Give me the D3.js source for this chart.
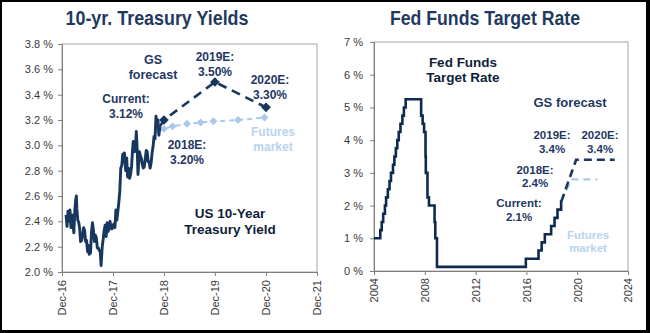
<!DOCTYPE html>
<html>
<head>
<meta charset="utf-8">
<script src="https://cdn.jsdelivr.net/npm/d3@7"></script>
<style>
  body { margin: 0; background: #000; }
  svg { display: block; }
  text { font-family: "Liberation Sans", Arial, sans-serif; }
</style>
</head>
<body>
<svg id="chart" width="650" height="333"></svg>
<script>
// 10-year treasury yield, weekly closes
var yieldDates = ["2016-12-30","2017-01-06","2017-01-13","2017-01-20","2017-01-27","2017-02-03","2017-02-10","2017-02-17","2017-02-24","2017-03-03","2017-03-10","2017-03-14","2017-03-17","2017-03-24","2017-03-31","2017-04-07","2017-04-13","2017-04-21","2017-04-28","2017-05-05","2017-05-12","2017-05-19","2017-05-26","2017-06-02","2017-06-09","2017-06-14","2017-06-23","2017-06-30","2017-07-07","2017-07-14","2017-07-21","2017-07-28","2017-08-04","2017-08-11","2017-08-18","2017-08-25","2017-09-01","2017-09-07","2017-09-15","2017-09-22","2017-09-29","2017-10-06","2017-10-13","2017-10-20","2017-10-27","2017-11-03","2017-11-10","2017-11-17","2017-11-24","2017-12-01","2017-12-08","2017-12-15","2017-12-22","2017-12-29","2018-01-05","2018-01-12","2018-01-19","2018-01-26","2018-02-02","2018-02-09","2018-02-16","2018-02-21","2018-03-02","2018-03-09","2018-03-16","2018-03-23","2018-03-30","2018-04-06","2018-04-13","2018-04-20","2018-04-25","2018-05-04","2018-05-11","2018-05-17","2018-05-25","2018-05-29","2018-06-08","2018-06-15","2018-06-22","2018-06-29","2018-07-06","2018-07-13","2018-07-20","2018-07-27","2018-08-03","2018-08-10","2018-08-17","2018-08-24","2018-08-31","2018-09-07","2018-09-14","2018-09-21","2018-09-28","2018-10-05","2018-10-12","2018-10-19","2018-10-26","2018-11-02"];
var yieldValues = [2.45,2.36,2.48,2.40,2.49,2.35,2.45,2.38,2.31,2.49,2.58,2.60,2.50,2.41,2.39,2.34,2.24,2.25,2.29,2.35,2.33,2.24,2.25,2.16,2.21,2.14,2.15,2.31,2.39,2.33,2.24,2.29,2.27,2.19,2.19,2.17,2.16,2.05,2.20,2.26,2.33,2.37,2.28,2.39,2.32,2.34,2.40,2.35,2.34,2.37,2.38,2.35,2.49,2.41,2.48,2.55,2.64,2.82,2.84,2.93,2.87,2.94,2.80,2.90,2.75,2.82,2.74,2.77,2.83,2.96,3.03,2.95,2.97,3.11,2.93,2.77,2.95,2.92,2.90,2.85,2.82,2.83,2.89,2.96,2.95,2.87,2.87,2.82,2.86,2.94,2.99,3.07,3.05,3.23,3.16,3.20,3.08,3.15];

// GS forecast for the 10-year
var gsYieldDates = ["2018-11-02","2018-12-01","2019-12-01","2020-12-01"];
var gsYieldValues = [3.15,3.20,3.50,3.30];
// futures-implied path
var futYieldDates = ["2018-10-20","2018-12-01","2019-02-01","2019-05-15","2019-08-20","2019-11-20","2020-05-15","2020-11-20"];
var futYieldValues = [3.12,3.13,3.15,3.17,3.18,3.19,3.20,3.22];

var yieldTicks = [2.0,2.2,2.4,2.6,2.8,3.0,3.2,3.4,3.6,3.8];
var yieldYears = ["2016-12-01","2017-12-01","2018-12-01","2019-12-01","2020-12-01","2021-12-01"];

// Fed funds target (mid of range), value changes
var fedDates = ["2004-01-01","2004-06-30","2004-08-10","2004-09-21","2004-11-10","2004-12-14","2005-02-02","2005-03-22","2005-05-03","2005-06-30","2005-08-09","2005-09-20","2005-11-01","2005-12-13","2006-01-31","2006-03-28","2006-05-10","2006-06-29","2007-09-18","2007-10-31","2007-12-11","2008-01-22","2008-01-30","2008-03-18","2008-04-30","2008-10-08","2008-10-29","2008-12-16","2015-12-16","2016-12-14","2017-03-15","2017-06-14","2017-12-13","2018-03-21","2018-06-13","2018-09-26","2018-10-01"];
var fedRates = [1.00,1.25,1.50,1.75,2.00,2.25,2.50,2.75,3.00,3.25,3.50,3.75,4.00,4.25,4.50,4.75,5.00,5.25,4.75,4.50,4.25,3.50,3.00,2.25,2.00,1.50,1.00,0.125,0.375,0.625,0.875,1.125,1.375,1.625,1.875,2.125,2.125];

var gsFedDates = ["2018-10-01","2018-12-31","2019-12-01","2022-12-15"];
var gsFedRates = [2.125,2.40,3.40,3.40];
var futFedDates = ["2018-10-01","2018-12-31","2019-08-01","2021-08-01"];
var futFedRates = [2.125,2.35,2.80,2.80];

var fedTicks = [0,1,2,3,4,5,6,7];
var fedYears = [2004,2008,2012,2016,2020,2024];

var dark = "#17375e", light = "#a9c9ec", navyText = "#1f3864", tickGray = "#3a3a3a";
var parse = d3.timeParse("%Y-%m-%d");

var svg = d3.select("#chart");
svg.append("rect").attr("x",2).attr("y",2).attr("width",644).attr("height",328).style("fill","#fff");

function zip(ds, vs) { return ds.map(function(d, i) { return {date: parse(d), value: vs[i]}; }); }

function frame(g, x0, x1, y0, y1) {
  g.append("rect")
   .attr("x",x0).attr("y",y0)
   .attr("width",x1-x0).attr("height",y1-y0)
   .style("fill","none").style("stroke","#a6a6a6").style("stroke-width",1);
}

function styleAxis(a) {
  a.selectAll("path").style("stroke","#7f7f7f");
  a.selectAll("line").style("stroke","#7f7f7f");
  a.selectAll("text").style("fill",tickGray).style("font-size","11px");
}

function labels(g, items) {
  items.forEach(function(t) {
    var txt = g.append("text")
      .attr("x", t.x).attr("y", t.y)
      .attr("text-anchor","middle")
      .style("font-weight","bold")
      .style("font-size", t.size + "px")
      .style("fill", t.color);
    t.lines.forEach(function(line, i) {
      txt.append("tspan").attr("x", t.x).attr("dy", i == 0 ? 0 : (t.lead || 14.5)).text(line);
    });
  });
}

function title(str, cx, len) {
  svg.append("text")
     .attr("x", cx).attr("y", 25)
     .attr("text-anchor","middle")
     .attr("textLength", len).attr("lengthAdjust","spacingAndGlyphs")
     .style("font-size","21px").style("font-weight","bold")
     .style("fill","#1f3a5f")
     .text(str);
}

function diamonds(g, pts, x, y, size, color) {
  g.selectAll(null).data(pts).enter()
   .append("path")
   .attr("d", d3.symbol().type(d3.symbolDiamond2).size(size))
   .attr("transform", function(d) { return "translate(" + x(d.date) + "," + y(d.value) + ")"; })
   .style("fill", color);
}

// ---------- left: 10-yr treasury ----------
var L = svg.append("g");
var lx = d3.scaleTime().domain([parse("2016-12-01"), parse("2021-12-01")]).range([62, 317]);
var ly = d3.scaleLinear().domain([2.0, 3.8]).range([272, 44]);

frame(L, 62, 317, 44, 272);

var lyAxis = L.append("g").attr("transform","translate(62,0)")
  .call(d3.axisLeft(ly).tickValues(yieldTicks).tickSize(4).tickPadding(5)
        .tickFormat(function(d) { return d3.format(".1f")(d) + " %"; }));
styleAxis(lyAxis);

var lxAxis = L.append("g").attr("transform","translate(0,272)")
  .call(d3.axisBottom(lx).tickValues(yieldYears.map(parse)).tickSize(4)
        .tickFormat(d3.timeFormat("Dec-%y")));
styleAxis(lxAxis);
lxAxis.selectAll("text")
  .attr("transform","rotate(-90)")
  .attr("text-anchor","end")
  .attr("x",-8).attr("y",0).attr("dy","0.35em");

var yLine = d3.line().x(function(d) { return lx(d.date); }).y(function(d) { return ly(d.value); });

var futY = zip(futYieldDates, futYieldValues);
L.append("path").datum(futY).attr("d", yLine)
  .style("fill","none").style("stroke",light).style("stroke-width",2).style("stroke-dasharray","5,4");
diamonds(L, futY, lx, ly, 40, light);

L.append("path").datum(zip(yieldDates, yieldValues)).attr("d", yLine)
  .style("fill","none").style("stroke",dark).style("stroke-width",2.9).style("stroke-linejoin","round");

var gsY = zip(gsYieldDates, gsYieldValues);
L.append("path").datum(gsY).attr("d", yLine)
  .style("fill","none").style("stroke",dark).style("stroke-width",2.6).style("stroke-dasharray","9,6");
diamonds(L, gsY.slice(1), lx, ly, 60, dark);

labels(L, [
  {x:153, y:64, size:12.5, color:navyText, lines:["GS","forecast"]},
  {x:215, y:61, size:12, color:navyText, lines:["2019E:","3.50%"]},
  {x:270, y:84, size:12, color:navyText, lines:["2020E:","3.30%"]},
  {x:126, y:103, size:12, color:navyText, lines:["Current:","3.12%"]},
  {x:187, y:149, size:12, color:navyText, lines:["2018E:","3.20%"]},
  {x:273, y:136, size:12, color:"#b8d3ef", lines:["Futures","market"]},
  {x:230, y:218, size:13.5, color:"#0f1f3a", lines:["US 10-Year","Treasury Yield"], lead:16}
]);

title("10-yr. Treasury Yields", 157, 183);

// ---------- right: fed funds ----------
var R = svg.append("g");
var rx = d3.scaleTime().domain([new Date(2004,0,1), new Date(2024,0,1)]).range([374, 628]);
var ry = d3.scaleLinear().domain([0, 7]).range([271, 42]);

frame(R, 374, 628, 42, 271);

var ryAxis = R.append("g").attr("transform","translate(374,0)")
  .call(d3.axisLeft(ry).tickValues(fedTicks).tickSize(4).tickPadding(7)
        .tickFormat(function(d) { return d + " %"; }));
styleAxis(ryAxis);

var rxAxis = R.append("g").attr("transform","translate(0,271)")
  .call(d3.axisBottom(rx).tickValues(fedYears.map(function(y) { return new Date(y,0,1); })).tickSize(4)
        .tickFormat(d3.timeFormat("%Y")));
styleAxis(rxAxis);
rxAxis.selectAll("text")
  .attr("transform","rotate(-90)")
  .attr("text-anchor","end")
  .attr("x",-7).attr("y",0).attr("dy","0.35em");

var fLine = d3.line().x(function(d) { return rx(d.date); }).y(function(d) { return ry(d.value); });

R.append("path").datum(zip(futFedDates, futFedRates)).attr("d", fLine)
  .style("fill","none").style("stroke",light).style("stroke-width",2.2).style("stroke-dasharray","7,5");

R.append("path").datum(zip(fedDates, fedRates)).attr("d", fLine.curve(d3.curveStepAfter))
  .style("fill","none").style("stroke","#0f2a50").style("stroke-width",2.6);
fLine.curve(d3.curveLinear);

R.append("path").datum(zip(gsFedDates, gsFedRates)).attr("d", fLine)
  .style("fill","none").style("stroke",dark).style("stroke-width",2.6).style("stroke-dasharray","8,5");

labels(R, [
  {x:463, y:67, size:13.5, color:"#0f1f3a", lines:["Fed Funds","Target Rate"], lead:15},
  {x:570, y:107, size:13, color:navyText, lines:["GS forecast"]},
  {x:552, y:139, size:11.5, color:navyText, lines:["2019E:","3.4%"], lead:13.5},
  {x:600, y:139, size:11.5, color:navyText, lines:["2020E:","3.4%"], lead:13.5},
  {x:535, y:174, size:11.5, color:navyText, lines:["2018E:","2.4%"], lead:12.5},
  {x:519, y:207, size:11.5, color:navyText, lines:["Current:","2.1%"], lead:13.5},
  {x:588, y:239, size:11.5, color:"#b8d3ef", lines:["Futures","market"], lead:12.5}
]);

title("Fed Funds Target Rate", 485, 190);
</script>
</body>
</html>
